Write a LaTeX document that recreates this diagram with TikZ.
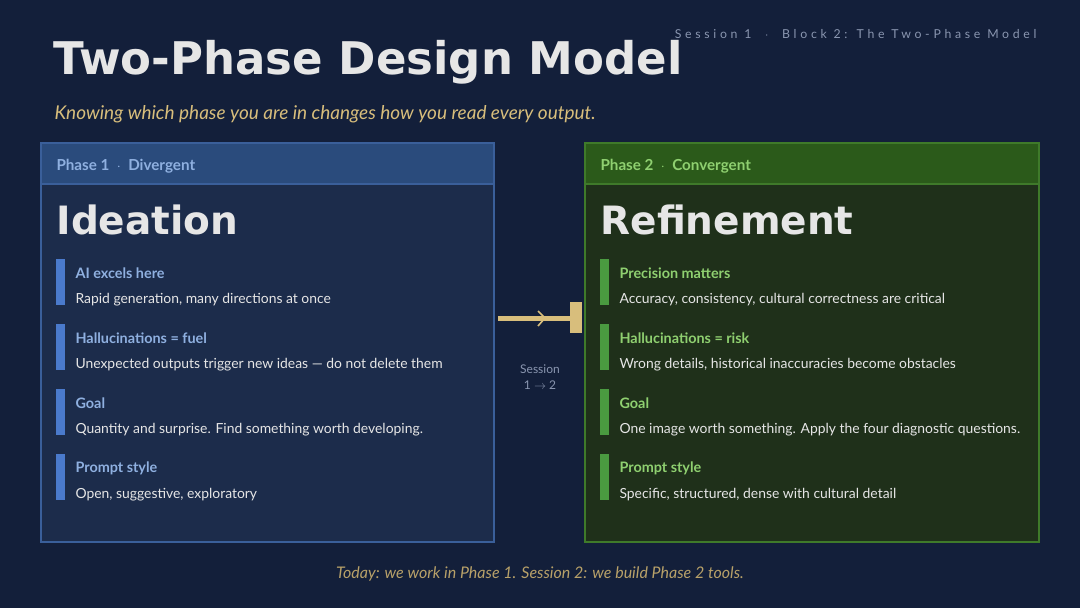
\documentclass[tikz,border=0pt]{standalone}
\usepackage{fontspec}
\setmainfont{Lato}
\newfontfamily\titlefont{DejaVu Sans}
\usetikzlibrary{positioning}
\definecolor{bgcol}{HTML}{131F3A}
\definecolor{boxA}{HTML}{1C2C4B}
\definecolor{headA}{HTML}{2A4B7C}
\definecolor{lineA}{HTML}{3A5F9A}
\definecolor{textA}{HTML}{8FB0E0}
\definecolor{barA}{HTML}{4A7ACC}
\definecolor{boxB}{HTML}{1F301A}
\definecolor{headB}{HTML}{2B5A1A}
\definecolor{lineB}{HTML}{3F7A2A}
\definecolor{textB}{HTML}{8FD070}
\definecolor{barB}{HTML}{4A9A40}
\definecolor{gold}{HTML}{D8BE7C}
\definecolor{bodytext}{HTML}{E6E6E6}
\definecolor{greytext}{HTML}{8A96B0}
\tikzset{
  item title/.style={anchor=west, font=\fontsize{14.4}{16}\selectfont\bfseries},
  item text/.style={anchor=west, text=bodytext, font=\fontsize{13.9}{16}\selectfont},
  big title/.style={anchor=west, text=bodytext, font=\titlefont\bfseries\fontsize{39}{44}\selectfont},
}
\begin{document}
\begin{tikzpicture}[x=1pt, y=-1pt]
\fill[bgcol] (0,0) rectangle (1080,608);
\useasboundingbox (0,0) rectangle (1080,608);

\node[anchor=west, text=bodytext, font=\titlefont\bfseries\fontsize{45}{50}\selectfont] (title) at (50,62) {Two-Phase Design Model};
\node[anchor=east, text=greytext, font=\fontsize{12.3}{14}\selectfont\addfontfeature{LetterSpace=30}] (crumb) at (1040,34) {Session 1 \ $\cdot$ \ Block 2: The Two-Phase Model};
\node[anchor=west, text=gold, font=\itshape\fontsize{19}{22}\selectfont] (sub) at (51,114) {Knowing which phase you are in changes how you read every output.};

% left box
\fill[boxA] (41,143) rectangle (494,542);
\fill[headA] (41,143) rectangle (494,184);
\draw[lineA, line width=1.2pt] (41,143) rectangle (494,542);
\draw[lineA, line width=1.2pt] (41,184) -- (494,184);
\node[anchor=west, text=textA, font=\fontsize{15.2}{17}\selectfont\bfseries] (headL) at (53,166) {Phase 1 \ $\cdot$ \ Divergent};
\node[big title] (bigL) at (53,220) {Ideation};

% right box
\fill[boxB] (585,143) rectangle (1039,542);
\fill[headB] (585,143) rectangle (1039,184);
\draw[lineB, line width=1.2pt] (585,143) rectangle (1039,542);
\draw[lineB, line width=1.2pt] (585,184) -- (1039,184);
\node[anchor=west, text=textB, font=\fontsize{15.2}{17}\selectfont\bfseries] (headR) at (597,166) {Phase 2 \ $\cdot$ \ Convergent};
\node[big title] (bigR) at (597,220) {Refinement};

% items
\foreach \t/\d [count=\i] in {AI excels here/{Rapid generation, many directions at once},
  Hallucinations = fuel/{Unexpected outputs trigger new ideas --- do not delete them},
  Goal/{Quantity and surprise. Find something worth developing.},
  Prompt style/{Open, suggestive, exploratory}} {
  \fill[barA] (56,259+\i*65-65) rectangle (65,305+\i*65-65);
  \node[item title, text=textA] (ltitle-\i) at (72,273+\i*65-65) {\t};
  \node[item text] (ltext-\i) at (72,300+\i*65-65) {\d};
}
\foreach \t/\d [count=\i] in {Precision matters/{Accuracy, consistency, cultural correctness are critical},
  Hallucinations = risk/{Wrong details, historical inaccuracies become obstacles},
  Goal/{One image worth something. Apply the four diagnostic questions.},
  Prompt style/{Specific, structured, dense with cultural detail}} {
  \fill[barB] (600,259+\i*65-65) rectangle (609,305+\i*65-65);
  \node[item title, text=textB] (rtitle-\i) at (616,273+\i*65-65) {\t};
  \node[item text] (rtext-\i) at (616,300+\i*65-65) {\d};
}

% connector
\coordinate (arrowstart) at (498,318);
\coordinate (arrowend) at (570,318);
\draw[gold, line width=5pt] (arrowstart) -- (arrowend);
\draw[gold, line width=1.6pt] (538,311) -- (545,318) -- (538,326);
\fill[gold] (570,302) rectangle (582,333);
\node[align=center, text=greytext, font=\fontsize{12}{16}\selectfont] (session) at (540,377) {Session\\1 $\rightarrow$ 2};

\node[text=gold!85!black, font=\itshape\fontsize{16}{18}\selectfont] (foot) at (540,574) {Today: we work in Phase 1. Session 2: we build Phase 2 tools.};
\end{tikzpicture}
\end{document}
